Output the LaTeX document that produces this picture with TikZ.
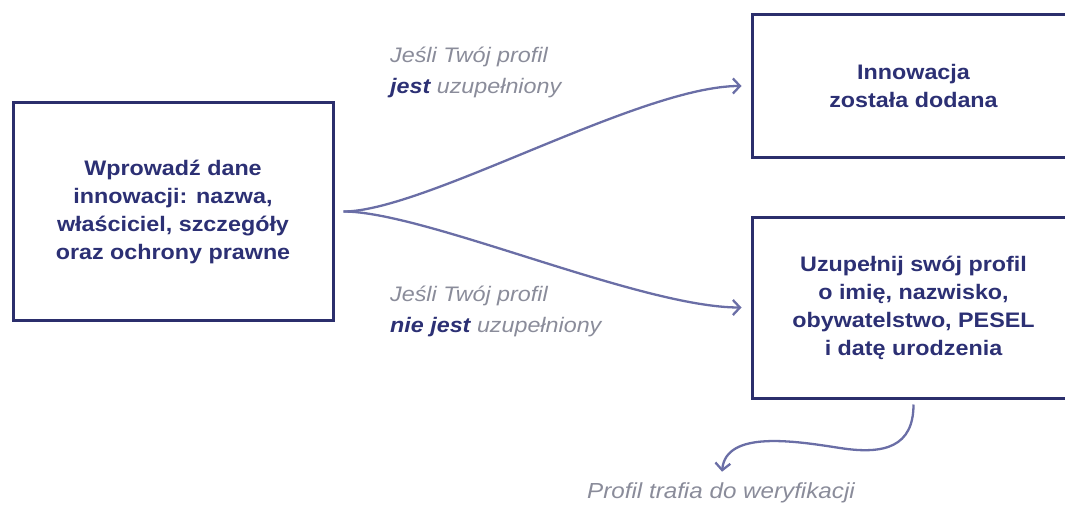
\documentclass[tikz,border=0pt]{standalone}
\usepackage{fontspec}
\setmainfont{Liberation Sans}[FakeStretch=1.11]
\usetikzlibrary{arrows.meta}
\definecolor{navy}{HTML}{2C3074}
\definecolor{boxline}{HTML}{2B2E6C}
\definecolor{arrowc}{HTML}{6A6EA6}
\definecolor{labgray}{HTML}{8A8C9A}
\tikzset{
  stepbox/.style={draw=boxline, line width=3pt, fill=white, align=center,
    text=navy, font=\fontsize{21}{28}\selectfont\bfseries, inner sep=0pt},
  condlabel/.style={align=left, text=labgray, inner sep=0pt,
    font=\fontsize{21}{31}\selectfont\itshape},
  flow/.style={draw=arrowc, line width=2.3pt,
    -{Straight Barb[length=7pt,width=15pt,line width=2.3pt]}},
}
\begin{document}
\begin{tikzpicture}[x=1pt,y=-1pt]
\useasboundingbox (0,0) rectangle (1065,508);
\clip (0,0) rectangle (1065,508);
\node[stepbox, minimum width=320pt, minimum height=217pt] (L) at (173,211.5)
  {Wprowadź dane\\innowacji: nazwa,\\właściciel, szczegóły\\oraz ochrony prawne};
\node[stepbox, minimum width=323pt, minimum height=142pt] (T) at (913.5,86)
  {Innowacja\\została dodana};
\node[stepbox, minimum width=323pt, minimum height=181pt] (B) at (913.5,307.5)
  {Uzupełnij swój profil\\o imię, nazwisko,\\obywatelstwo, PESEL\\i datę urodzenia};
\node[condlabel, anchor=west] (c1) at (390,72)
  {Jeśli Twój profil\\{\bfseries\color{navy}jest} uzupełniony};
\node[condlabel, anchor=west] (c2) at (390,311)
  {Jeśli Twój profil\\{\bfseries\color{navy}nie jest} uzupełniony};
\node[condlabel, anchor=center, font=\fontsize{21.8}{26}\selectfont\itshape] (P) at (721,493) {Profil trafia do weryfikacji};
\draw[flow, shorten <=9pt, shorten >=9pt] (L.east) .. controls +(90,0) and +(-110,0) .. (T.west);
\draw[flow, shorten <=9pt, shorten >=9pt] (L.east) .. controls +(90,0) and +(-110,0) .. (B.west);
\draw[flow, shorten <=5pt, shorten >=11pt] (B.south) .. controls +(0,47) and (885,455) .. (840,448)
  .. controls (795,441) and (726,430) .. (P.north);
\end{tikzpicture}
\end{document}
